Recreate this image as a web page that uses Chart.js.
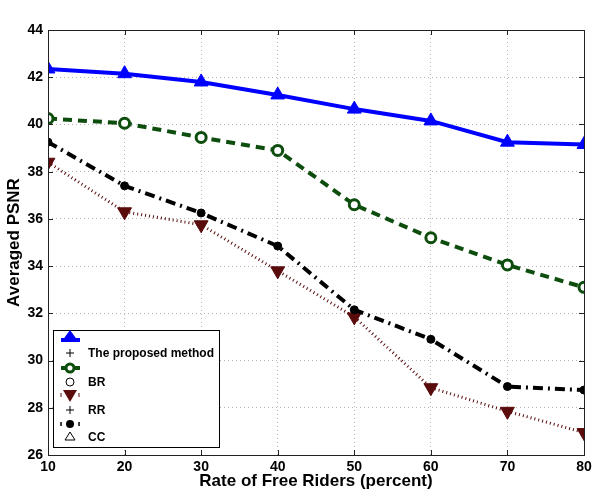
<!DOCTYPE html>
<html>
<head>
<meta charset="utf-8">
<script src="https://cdn.jsdelivr.net/npm/chart.js@4"></script>
<style>
  html, body { margin: 0; padding: 0; background: #fff; }
  #wrap { width: 600px; height: 495px; position: relative; }
</style>
</head>
<body>
<div id="wrap"><canvas id="grafico" width="600" height="495"></canvas></div>
<script>
// valores
const tasas = [10, 20, 30, 40, 50, 60, 70, 80];
const propuesto = [42.35, 42.15, 41.8, 41.25, 40.65, 40.15, 39.25, 39.15];
const br = [40.25, 40.05, 39.45, 38.9, 36.6, 35.2, 34.05, 33.1];
const rr = [38.4, 36.3, 35.75, 33.8, 31.85, 28.85, 27.85, 26.95];
const cc = [39.25, 37.4, 36.25, 34.85, 32.15, 30.9, 28.9, 28.75];
const ticksY = [26, 28, 30, 32, 34, 36, 38, 40, 42, 44];
const leyenda = ["", "The proposed method", "", "BR", "", "RR", "", "CC"];

const AZUL = "#0000ff", VERDE = "#0d4d0d", ROJO = "#5a0c0c", NEGRO = "#000";
const fuente = "'Liberation Sans', Arial, sans-serif";

const puntos = (arr) => tasas.map((x, i) => ({ x, y: arr[i] }));

// ticks hacia adentro, marco y leyenda al estilo matlab
const marco = {
    id: "marco",
    afterDatasetsDraw(chart) {
        const { ctx, chartArea: a, scales } = chart;
        ctx.save();
        ctx.strokeStyle = "#222";
        ctx.lineWidth = 1;
        ctx.setLineDash([]);
        ctx.beginPath();
        tasas.forEach((t) => {
            const x = Math.round(scales.x.getPixelForValue(t)) + 0.5;
            ctx.moveTo(x, a.bottom); ctx.lineTo(x, a.bottom - 5);
            ctx.moveTo(x, a.top); ctx.lineTo(x, a.top + 5);
        });
        ticksY.forEach((t) => {
            const y = Math.round(scales.y.getPixelForValue(t)) + 0.5;
            ctx.moveTo(a.left, y); ctx.lineTo(a.left + 5, y);
            ctx.moveTo(a.right, y); ctx.lineTo(a.right - 5, y);
        });
        ctx.stroke();
        ctx.strokeRect(Math.round(a.left) + 0.5, Math.round(a.top) + 0.5, Math.round(a.right - a.left), Math.round(a.bottom - a.top));

        // leyenda
        const lx = 53, ly = 330, lw = 166, lh = 117;
        ctx.fillStyle = "#fff";
        ctx.fillRect(lx, ly, lw, lh);
        ctx.strokeStyle = "#000";
        ctx.strokeRect(lx + 0.5, ly + 0.5, lw, lh);
        const filas = [337, 353, 368, 382, 396, 410, 424, 437];
        const mx = 70;
        ctx.font = "bold 12px " + fuente;
        ctx.textBaseline = "middle";
        filas.forEach((y, i) => {
            ctx.fillStyle = "#000";
            if (leyenda[i]) ctx.fillText(leyenda[i], 88, y + 1);
        });
        // fila 0: linea azul con triangulo
        ctx.lineWidth = 4;
        ctx.strokeStyle = AZUL;
        ctx.beginPath(); ctx.moveTo(61, filas[0] + 3); ctx.lineTo(80, filas[0] + 3); ctx.stroke();
        ctx.fillStyle = AZUL;
        ctx.beginPath(); ctx.moveTo(mx, filas[0] - 7); ctx.lineTo(mx + 8, filas[0] + 4); ctx.lineTo(mx - 8, filas[0] + 4); ctx.closePath(); ctx.fill();
        // fila 2: verde con circulo
        ctx.strokeStyle = VERDE;
        ctx.beginPath(); ctx.moveTo(61, filas[2]); ctx.lineTo(80, filas[2]); ctx.stroke();
        ctx.lineWidth = 3; ctx.fillStyle = "#fff";
        ctx.beginPath(); ctx.arc(mx, filas[2], 4, 0, Math.PI * 2); ctx.fill(); ctx.stroke();
        // fila 4: triangulo rojo
        ctx.lineWidth = 1; ctx.strokeStyle = ROJO;
        ctx.beginPath(); ctx.moveTo(61, filas[4] - 3); ctx.lineTo(61, filas[4] + 1); ctx.moveTo(79, filas[4] - 3); ctx.lineTo(79, filas[4] + 1); ctx.stroke();
        ctx.fillStyle = ROJO;
        ctx.beginPath(); ctx.moveTo(mx - 7, filas[4] - 6); ctx.lineTo(mx + 7, filas[4] - 6); ctx.lineTo(mx, filas[4] + 6); ctx.closePath(); ctx.fill();
        // fila 6: punto negro
        ctx.strokeStyle = NEGRO; ctx.lineWidth = 1.5;
        ctx.beginPath(); ctx.moveTo(61, filas[6] - 2); ctx.lineTo(61, filas[6] + 2); ctx.moveTo(79, filas[6] - 2); ctx.lineTo(79, filas[6] + 2); ctx.stroke();
        ctx.fillStyle = NEGRO;
        ctx.beginPath(); ctx.arc(mx, filas[6], 4, 0, Math.PI * 2); ctx.fill();
        // simbolos sueltos
        ctx.lineWidth = 1; ctx.strokeStyle = "#000";
        [filas[1], filas[5]].forEach((y) => {
            ctx.beginPath(); ctx.moveTo(mx - 4, y); ctx.lineTo(mx + 4, y); ctx.moveTo(mx, y - 4); ctx.lineTo(mx, y + 4); ctx.stroke();
        });
        ctx.beginPath(); ctx.arc(mx, filas[3], 4, 0, Math.PI * 2); ctx.stroke();
        ctx.beginPath(); ctx.moveTo(mx, filas[7] - 5); ctx.lineTo(mx + 5, filas[7] + 3); ctx.lineTo(mx - 5, filas[7] + 3); ctx.closePath(); ctx.stroke();
        ctx.restore();
    },
};

const rejilla = { color: "#b4b4b4", lineWidth: 1, drawTicks: false };
const borde = { display: false, dash: [1, 3] };

new Chart(document.getElementById("grafico"), {
    type: "line",
    data: {
        datasets: [
            { label: "CC", data: puntos(cc), borderColor: NEGRO, borderWidth: 4, borderDash: [10, 5, 2, 5], pointStyle: "circle", pointRadius: 4, pointBackgroundColor: NEGRO, pointBorderColor: NEGRO, pointBorderWidth: 1 },
            { label: "RR", data: puntos(rr), borderColor: ROJO, borderWidth: 3, borderDash: [1, 3], pointStyle: "triangle", rotation: 180, pointRadius: 8, pointBackgroundColor: ROJO, pointBorderColor: ROJO, pointBorderWidth: 1 },
            { label: "BR", data: puntos(br), borderColor: VERDE, borderWidth: 4, borderDash: [9, 6], pointStyle: "circle", pointRadius: 5, pointBackgroundColor: "#fff", pointBorderColor: VERDE, pointBorderWidth: 3 },
            { label: "The proposed method", data: puntos(propuesto), borderColor: AZUL, borderWidth: 4, pointStyle: "triangle", pointRadius: 8, pointBackgroundColor: AZUL, pointBorderColor: AZUL, pointBorderWidth: 1 },
            { label: "cruz", data: puntos(propuesto), showLine: false, pointStyle: "cross", pointRadius: 4, pointBorderColor: "#000", pointBorderWidth: 1 },
        ],
    },
    options: {
        responsive: false,
        animation: false,
        maintainAspectRatio: false,
        layout: { padding: { top: 30, right: 16, left: 4, bottom: 0 } },
        plugins: { legend: { display: false }, tooltip: { enabled: false } },
        scales: {
            x: {
                type: "linear", min: 10, max: 80,
                afterBuildTicks: (s) => { s.ticks = tasas.map((v) => ({ value: v })); },
                afterFit: (s) => { s.height = 40; },
                grid: rejilla,
                border: borde,
                ticks: { color: "#000", padding: 4, font: { family: fuente, size: 14, weight: "bold" } },
                title: { display: true, text: "Rate of Free Riders (percent)", color: "#000", padding: { top: 0, bottom: 3 }, font: { family: fuente, size: 17, weight: "bold" } },
            },
            y: {
                min: 26, max: 44,
                afterBuildTicks: (s) => { s.ticks = ticksY.map((v) => ({ value: v })); },
                afterFit: (s) => { s.width = 44; },
                grid: rejilla,
                border: borde,
                ticks: { color: "#000", padding: 5, font: { family: fuente, size: 14, weight: "bold" } },
                title: { display: true, text: "Averaged PSNR", color: "#000", padding: 0, font: { family: fuente, size: 17, weight: "bold" } },
            },
        },
    },
    plugins: [marco],
});
</script>
</body>
</html>
